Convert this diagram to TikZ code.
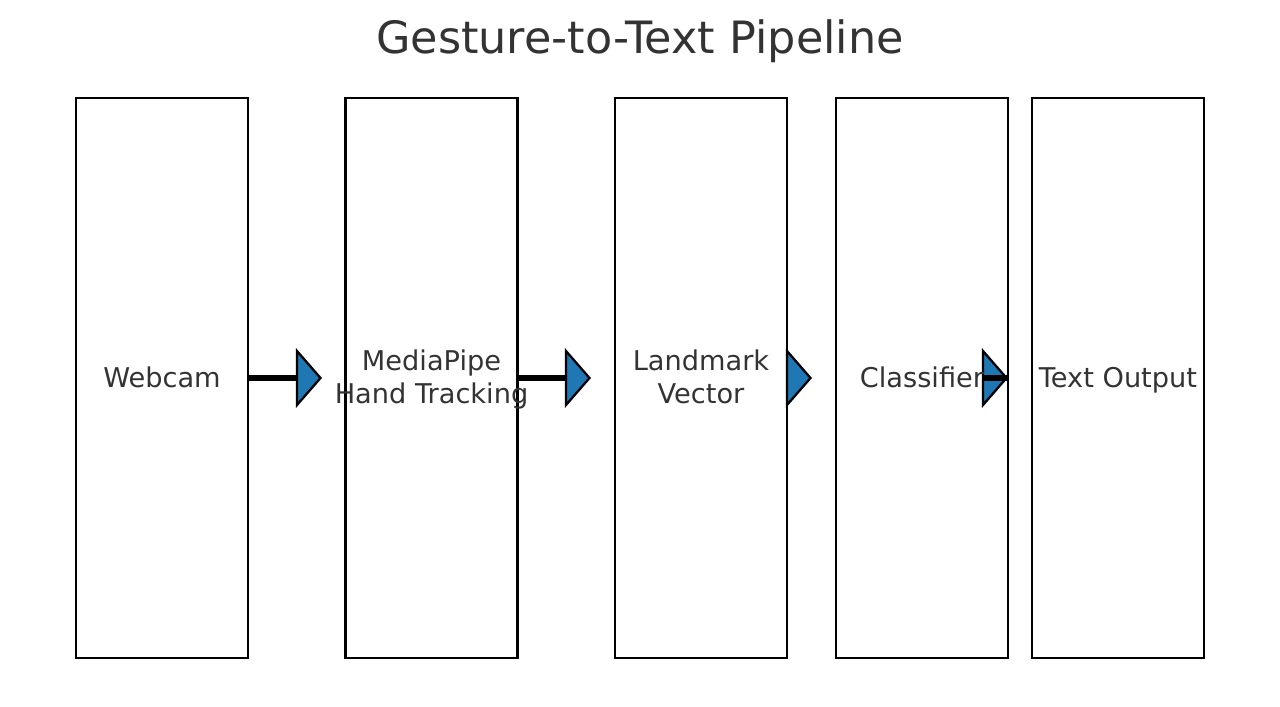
\documentclass[tikz,border=0pt]{standalone}
\usepackage{fontspec}
\setmainfont{DejaVu Sans}
\definecolor{mplblue}{HTML}{1F77B4}
\definecolor{txt}{HTML}{333333}
\newcommand{\lstrut}{\rule[-0.24em]{0pt}{1.17em}}
\begin{document}
\begin{tikzpicture}[x=0.75pt,y=-0.75pt,
  stage/.style={draw=black,line width=1.8pt,minimum width=129pt,minimum height=420pt,inner sep=0pt},
  lbl/.style={text=txt,font=\fontsize{20.4pt}{24.75pt}\selectfont,align=center,inner sep=0pt},
  shaft/.style={line width=3.9pt,black},
  head/.style={fill=mplblue,draw=black,line width=1.7pt,line join=miter}]
\useasboundingbox (0,0) rectangle (1280,706);
\node[text=txt,font=\fontsize{33.4pt}{40pt}\selectfont] (title) at (640,41) {Gesture-to-Text Pipeline};
\node[stage] (b1) at (162,378) {};
\node[stage] (b2) at (431.5,378) {};
\node[stage] (b3) at (701,378) {};
\node[stage] (b4) at (922,378) {};
\node[stage] (b5) at (1118,378) {};
% arrows
\coordinate (h1) at (297,378);
\coordinate (h2) at (566,378);
\coordinate (h3) at (787,378);
\coordinate (h4) at (983,378);
\draw[shaft] (b1.east) -- (h1);
\draw[head] (h1) ++(0,-27) -- ++(23.5,27) -- ++(-23.5,27) -- cycle;
\draw[shaft] (b2.east) -- (h2);
\draw[head] (h2) ++(0,-27) -- ++(23.5,27) -- ++(-23.5,27) -- cycle;
\draw[head] (h3) ++(0,-27) -- ++(23.5,27) -- ++(-23.5,27) -- cycle;
\draw[head] (h4) ++(0,-27) -- ++(23.5,27) -- ++(-23.5,27) -- cycle;
\draw[shaft] (h4) -- (b4.east);
% labels
\node[lbl] (t1) at (b1.center) {\lstrut Webcam};
\node[lbl] (t2) at (b2.center) {\lstrut MediaPipe\\\lstrut Hand Tracking};
\node[lbl] (t3) at (b3.center) {\lstrut Landmark\\\lstrut Vector};
\node[lbl] (t4) at (b4.center) {\lstrut Classifier};
\node[lbl] (t5) at (b5.center) {\lstrut Text Output};
\end{tikzpicture}
\end{document}
